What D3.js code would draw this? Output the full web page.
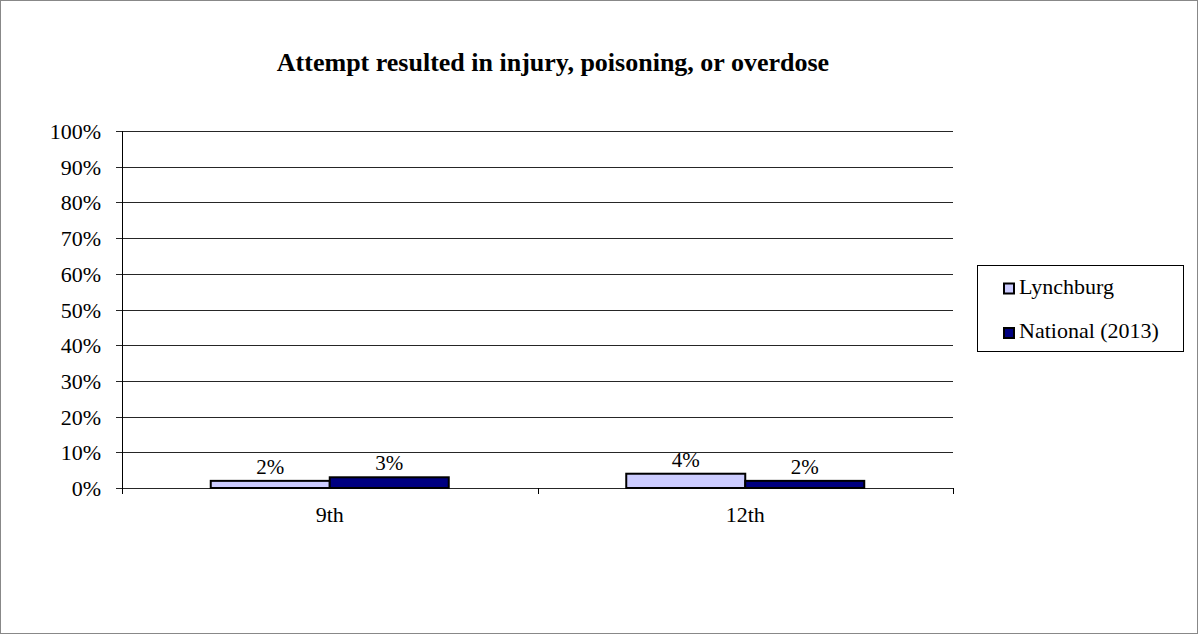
<!DOCTYPE html>
<html><head><meta charset="utf-8">
<script src="https://cdn.jsdelivr.net/npm/d3@7"></script>
<style>body{margin:0;background:#fff;} svg{display:block;font-family:"Liberation Serif","Times New Roman",serif;}</style>
</head><body>
<svg id="c" width="1199" height="635"></svg>
<script>
const categories = ["9th", "12th"];
const seriesNames = ["Lynchburg", "National (2013)"];
const lynchburg = [0.02, 0.04];
const national = [0.03, 0.02];
const yTicks = [0,0.1,0.2,0.3,0.4,0.5,0.6,0.7,0.8,0.9,1.0];
const colors = ["#ccccff", "#000080"];
const title = "Attempt resulted in injury, poisoning, or overdose";

const svg = d3.select("#c");
svg.append("rect").attr("x",0.5).attr("y",0.5).attr("width",1197).attr("height",633)
  .attr("fill","#fff").attr("stroke","#888").attr("stroke-width",1);

const L=122, R=953, T=131, B=488;
const x = d3.scaleBand().domain(categories).range([L,R]).paddingInner(0).paddingOuter(0);
const y = d3.scaleLinear().domain([0,1]).range([B,T]);
const series = [lynchburg, national];
const groupW = 238;
const xs = d3.scaleBand().domain(seriesNames).range([0,groupW]);
const fs = 22;

svg.append("text").attr("x",553).attr("y",71).attr("text-anchor","middle")
  .attr("font-weight","bold").attr("font-size",26).text(title);

// grid
svg.append("g").selectAll("line").data(yTicks).join("line")
  .attr("x1",L-6).attr("x2",R).attr("y1",d=>Math.round(y(d))+0.5).attr("y2",d=>Math.round(y(d))+0.5)
  .attr("stroke","#000").attr("stroke-width",1).attr("stroke-opacity",0.85);
svg.append("g").selectAll("text").data(yTicks).join("text")
  .attr("x",101).attr("y",d=>y(d)+8).attr("text-anchor","end").attr("font-size",fs)
  .text(d=>d3.format(".0%")(d));
// y axis
svg.append("line").attr("x1",L+0.5).attr("x2",L+0.5).attr("y1",T).attr("y2",B+5).attr("stroke","#000");
// x ticks
const xt = [L, L+x.bandwidth(), R];
svg.append("g").selectAll("line").data(xt).join("line")
  .attr("x1",d=>Math.round(d)+0.5).attr("x2",d=>Math.round(d)+0.5).attr("y1",B).attr("y2",B+6).attr("stroke","#000");
svg.append("g").selectAll("text").data(categories).join("text")
  .attr("x",d=>x(d)+x.bandwidth()/2).attr("y",522).attr("text-anchor","middle").attr("font-size",fs).text(d=>d);

// bars
categories.forEach((c,i)=>{
  const gx = x(c)+x.bandwidth()/2 - groupW/2;
  series.forEach((s,j)=>{
    const bx = gx + xs(seriesNames[j]);
    svg.append("rect").attr("x",bx).attr("y",y(s[i])).attr("width",xs.bandwidth())
      .attr("height",B-y(s[i])).attr("fill",colors[j]).attr("stroke","#000").attr("stroke-width",2);
    svg.append("text").attr("x",bx+xs.bandwidth()/2).attr("y",y(s[i])-7).attr("text-anchor","middle")
      .attr("font-size",21).text(d3.format(".0%")(s[i]));
  });
});

// legend
svg.append("rect").attr("x",977.5).attr("y",265.5).attr("width",206).attr("height",86)
  .attr("fill","#fff").attr("stroke","#000");
seriesNames.forEach((n,j)=>{
  const cy = 288.5 + j*44.5;
  svg.append("rect").attr("x",1004).attr("y",cy-5).attr("width",10).attr("height",10)
    .attr("fill",colors[j]).attr("stroke","#000").attr("stroke-width",2);
  svg.append("text").attr("x",1019).attr("y",cy+5).attr("font-size",fs).text(n);
});
</script>
</body></html>
